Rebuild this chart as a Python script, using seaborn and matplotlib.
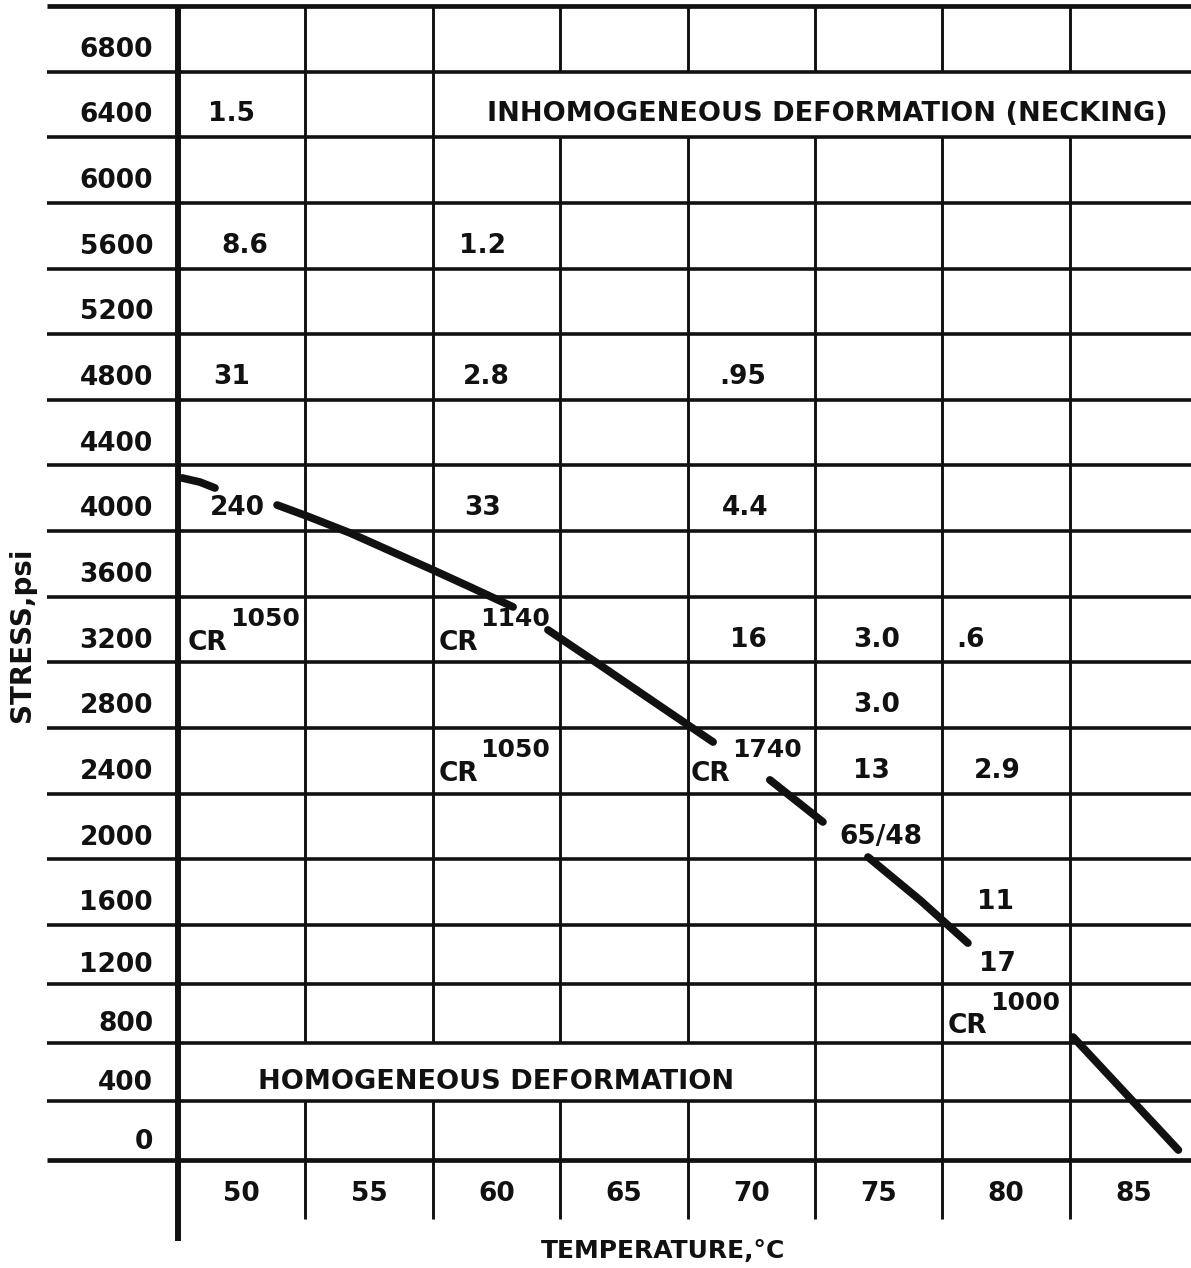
import matplotlib
matplotlib.use("Agg")
import matplotlib.pyplot as plt
import matplotlib.transforms as mtransforms
import numpy as np
import pandas as pd
import seaborn as sns

# table rows (stress, psi) and columns (temperature, C)
stress_rows = [6800, 6400, 6000, 5600, 5200, 4800, 4400, 4000, 3600,
               3200, 2800, 2400, 2000, 1600, 1200, 800, 400, 0]
temp_cols = [50, 55, 60, 65, 70, 75, 80, 85]

# boundary curve, drawn in separate pieces
curve_seg = [1] * 3 + [2] * 6 + [3] * 4 + [4] * 2 + [5] * 3 + [6] * 2
curve_temp = [47.66, 48.36, 48.95,
              51.39, 52.56, 54.25, 57.51, 58.96, 60.65,
              62.02, 64.06, 66.42, 68.50,
              70.73, 72.81,
              74.58, 76.62, 78.50,
              82.63, 86.76]
curve_stress = [4124, 4099, 4063,
                3959, 3892, 3789, 3563, 3460, 3338,
                3198, 2984, 2734, 2515,
                2284, 2028,
                1814, 1552, 1277,
                637, -132]

# numbers written in the cells
cell_text = ["1.5", "8.6", "31", "240", "1.2", "2.8", "33", ".95", "4.4",
             "16", "3.0", "3.0", "13", "65/48", ".6", "2.9", "11", "17"]
cell_temp = [50, 50, 50, 50, 60, 60, 60, 70, 70,
             70, 75, 75, 75, 75, 80, 80, 80, 80]
cell_stress = [6400, 5600, 4800, 4000, 5600, 4800, 4000, 4800, 4000,
               3200, 3200, 2800, 2400, 2000, 3200, 2400, 1600, 1200]
cell_dx = [-10, 3, -10, -4, -14, -10, -14, -9, -6,
           -3, -2, -2, -7, 2, -36, -9, -11, -9]   # px nudges

# "CR" entries with their superscripts
cr_temp = [50, 60, 60, 70, 80]
cr_stress = [3200, 3200, 2400, 2400, 800]
cr_num = ["1050", "1140", "1050", "1740", "1000"]
cr_dx = [-54, -58, -58, -61, -58]   # left edge from column centre, px

# labels that span several columns (vertical rules are left out there)
span_text = ["INHOMOGENEOUS DEFORMATION (NECKING)", "HOMOGENEOUS DEFORMATION"]
span_row = [6400, 400]
span_from = [57.5, 47.5]
span_to = [87.5, 72.5]
span_dx = [15, 0]

W, H = 1191, 1268
INK = "#111111"

sns.set_theme(style="white")
plt.rcParams["font.family"] = ["DejaVu Sans"]
plt.rcParams["font.weight"] = "bold"

fig = plt.figure(figsize=(W / 100, H / 100), dpi=100)
fig.patch.set_facecolor("white")
ax = fig.add_axes([178 / W, 108 / H, 1013 / W, 1160 / H])
ax.set_facecolor("white")

# the scanned rows are a bit shorter below 1400 psi
K = 1400.0
def fwd(s):
    s = np.asarray(s, dtype=float)
    return np.where(s < K, (s + 200) * 0.146875, 235 + (s - K) * 0.16411)

def inv(p):
    p = np.asarray(p, dtype=float)
    return np.where(p < 235, p / 0.146875 - 200, K + (p - 235) / 0.16411)

ax.set_yscale("function", functions=(fwd, inv))
ax.set_xlim(47.5, 47.5 + 1013 / 25.48)
ax.set_ylim(-200, float(inv(1160)))
for sp in ax.spines.values():
    sp.set_visible(False)

# horizontal rules between rows, running into the label column
bounds = [s + 200 for s in stress_rows] + [-200]
for b in bounds:
    lw = 3.4 if b in (7000, -200) else 2.6
    ax.hlines(b, 42.36, 88, colors=INK, lw=lw, clip_on=False)

# vertical rules between columns
vx = [t - 2.5 for t in temp_cols]
for x in vx:
    if x == 47.5:
        ax.vlines(x, -750, 7000, colors=INK, lw=4.3, clip_on=False)
        continue
    cuts = [(r - 200, r + 200) for r, a, b in zip(span_row, span_from, span_to)
            if a < x < b]
    pieces, lo = [], -600
    for c0, c1 in sorted(cuts):
        pieces.append((lo, c0))
        lo = c1
    pieces.append((lo, 7000))
    for y0, y1 in pieces:
        ax.vlines(x, y0, y1, colors=INK, lw=2.1, clip_on=False)

# the boundary curve
df = pd.DataFrame({"temp": curve_temp, "stress": curve_stress, "seg": curve_seg})
sns.lineplot(data=df, x="temp", y="stress", units="seg", estimator=None,
             sort=False, color=INK, lw=5.6, solid_capstyle="round",
             legend=False, ax=ax)

# cell values
for t, s, txt, dx in zip(cell_temp, cell_stress, cell_text, cell_dx):
    ax.annotate(txt, (t, s), xytext=(dx, -7), textcoords="offset pixels",
                ha="center", va="center_baseline", fontsize=19,
                fontweight="bold", color=INK)

for t, s, num, dx in zip(cr_temp, cr_stress, cr_num, cr_dx):
    ax.annotate("CR", (t, s), xytext=(dx, -10), textcoords="offset pixels",
                ha="left", va="center_baseline", fontsize=19,
                fontweight="bold", color=INK)
    ax.annotate(num, (t, s), xytext=(dx + 42, 13), textcoords="offset pixels",
                ha="left", va="center_baseline", fontsize=18,
                fontweight="bold", color=INK)

for txt, r, a, b, dx in zip(span_text, span_row, span_from, span_to, span_dx):
    ax.annotate(txt, ((a + min(b, 87.26)) / 2, r), xytext=(dx, -7),
                textcoords="offset pixels", ha="center",
                va="center_baseline", fontsize=19.5, fontweight="bold",
                color=INK)

# tick labels
ax.set_yticks(stress_rows)
ax.set_yticklabels([str(s) for s in stress_rows])
ax.set_xticks(temp_cols)
ax.set_xticklabels([str(t) for t in temp_cols])
ax.yaxis.set_minor_locator(matplotlib.ticker.NullLocator())
ax.tick_params(axis="y", length=0, pad=18, labelsize=19, labelcolor=INK)
ax.tick_params(axis="x", length=0, pad=15, labelsize=19, labelcolor=INK)
ax.set_xlabel("")
ax.set_ylabel("")

# stress labels sit a little below the middle of their rows
shift = mtransforms.ScaledTranslation(0, -8 / 100, fig.dpi_scale_trans)
for lab in ax.get_yticklabels():
    lab.set_transform(lab.get_transform() + shift)

fig.text(22 / W, 1 - 635 / H, "STRESS,psi", rotation=90, ha="center",
         va="center", fontsize=20, fontweight="bold", color=INK)
fig.text(663 / W, 1 - 1251 / H, "TEMPERATURE,\u00b0C", ha="center",
         va="center", fontsize=18, fontweight="bold", color=INK)

fig.savefig("out.png", dpi=100, facecolor="white")
